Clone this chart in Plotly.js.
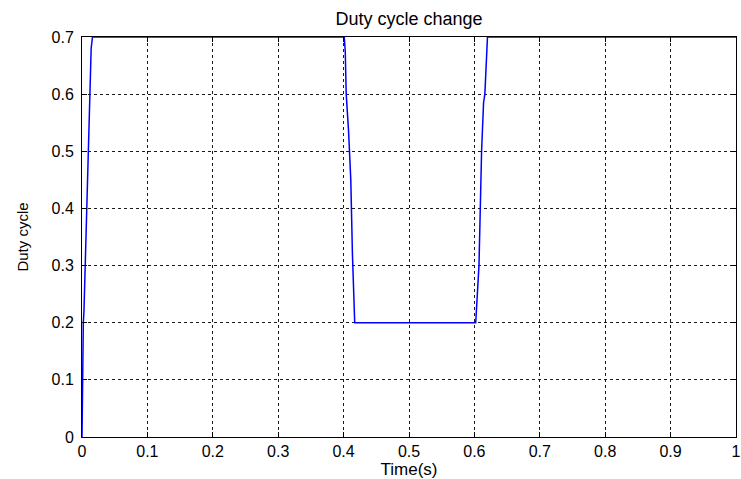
<!DOCTYPE html>
<html>
<head>
<meta charset="utf-8">
<script src="https://cdn.plot.ly/plotly-3.0.1.min.js"></script>
<style>html,body{margin:0;padding:0;background:#fff;}#chart{width:741px;height:479px;}</style>
</head>
<body>
<div id="chart"></div>
<script>
// Time (s)
var timeS = [0, 0.0005, 0.001, 0.002, 0.003, 0.005, 0.008, 0.012, 0.014, 0.016,
             0.401, 0.4025, 0.404, 0.4075, 0.411, 0.4135, 0.4157, 0.417,
             0.602, 0.6037, 0.607, 0.611, 0.614, 0.616, 0.6185, 0.620, 1.0];
// Duty cycle
var dutyCycle = [0, 0.1, 0.1, 0.2, 0.22, 0.3, 0.45, 0.6, 0.68, 0.7,
                 0.7, 0.675, 0.6, 0.537, 0.45, 0.32, 0.26, 0.2,
                 0.2, 0.243, 0.3, 0.5, 0.585, 0.6, 0.655, 0.7, 0.7];
var xTicks = [0, 0.1, 0.2, 0.3, 0.4, 0.5, 0.6, 0.7, 0.8, 0.9, 1];
var xTickText = ['0', '0.1', '0.2', '0.3', '0.4', '0.5', '0.6', '0.7', '0.8', '0.9', '1'];
var yTicks = [0, 0.1, 0.2, 0.3, 0.4, 0.5, 0.6, 0.7];
var yTickText = ['0', '0.1', '0.2', '0.3', '0.4', '0.5', '0.6', '0.7'];

var font = 'Liberation Sans, Arial, sans-serif';
var trace = {
  x: timeS, y: dutyCycle, type: 'scatter', mode: 'lines',
  line: {color: '#0000ff', width: 1.5}, hoverinfo: 'skip', cliponaxis: false
};
var axisCommon = {
  showline: true, linecolor: '#000', linewidth: 1, mirror: 'ticks',
  ticks: 'inside', ticklen: 5, tickcolor: '#000', tickwidth: 1,
  showgrid: true, gridcolor: '#1a1a1a', griddash: '3px,3px', gridwidth: 1,
  zeroline: false, ticklabeloverflow: 'allow',
  tickfont: {family: font, size: 16, color: '#000'}
};
var layout = {
  width: 741, height: 479,
  margin: {l: 82, r: 5, t: 37, b: 42},
  paper_bgcolor: '#fff', plot_bgcolor: '#fff',
  showlegend: false,
  title: {text: 'Duty cycle change', font: {family: font, size: 18, color: '#000'},
          x: 0.5, xref: 'paper', y: 0.962, yref: 'container', yanchor: 'middle'},
  xaxis: Object.assign({}, axisCommon, {
    range: [0, 1], tickvals: xTicks, ticktext: xTickText,
    title: {text: 'Time(s)', font: {family: font, size: 17, color: '#000'}, standoff: 2}
  }),
  yaxis: Object.assign({}, axisCommon, {
    range: [0, 0.7], tickvals: yTicks, ticktext: yTickText, ticklabelstandoff: 4,
    title: {text: 'Duty cycle', font: {family: font, size: 15, color: '#000'}, standoff: 19}
  })
};
Plotly.newPlot('chart', [trace], layout, {displayModeBar: false, staticPlot: true});
</script>
</body>
</html>
